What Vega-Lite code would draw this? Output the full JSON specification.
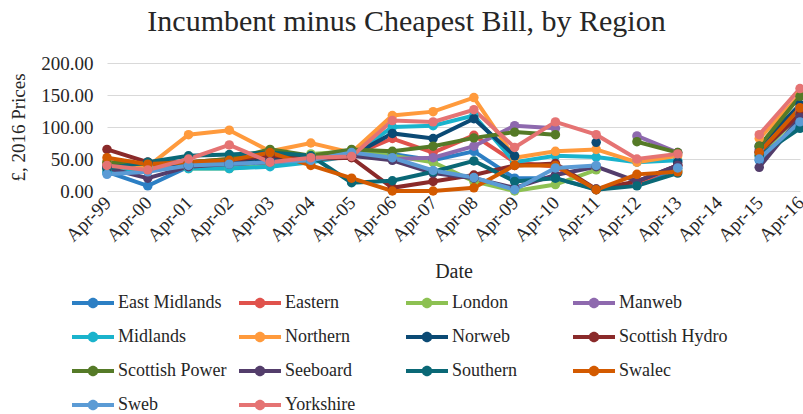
{
  "$schema": "https://vega.github.io/schema/vega-lite/v6.json",
  "width": 693,
  "height": 128,
  "autosize": {"type": "none"},
  "padding": {"left": 107, "top": 63, "right": 3, "bottom": 223},
  "background": "white",
  "title": {"text": "Incumbent minus Cheapest Bill, by Region", "fontSize": 30, "font": "Liberation Serif", "fontWeight": "normal", "color": "#262626", "anchor": "middle", "dx": -47, "offset": 17},
  "data": {"values": [
    {"date": "Apr-99", "East Midlands": 30, "Eastern": 40, "London": 35, "Manweb": 38, "Midlands": 28, "Northern": 45, "Norweb": 38, "Scottish Hydro": 65, "Scottish Power": 45, "Seeboard": 36, "Southern": 35, "Swalec": 52, "Sweb": 26, "Yorkshire": 40},
    {"date": "Apr-00", "East Midlands": 8, "Eastern": 42, "London": 38, "Manweb": 40, "Midlands": 35, "Northern": 38, "Norweb": 45, "Scottish Hydro": 45, "Scottish Power": 42, "Seeboard": 20, "Southern": 45, "Swalec": 42, "Sweb": 30, "Yorkshire": 33},
    {"date": "Apr-01", "East Midlands": 38, "Eastern": 45, "London": 35, "Manweb": 42, "Midlands": 35, "Northern": 88, "Norweb": 40, "Scottish Hydro": 45, "Scottish Power": 45, "Seeboard": 38, "Southern": 55, "Swalec": 45, "Sweb": 40, "Yorkshire": 50},
    {"date": "Apr-02", "East Midlands": 40, "Eastern": 50, "London": 35, "Manweb": 45, "Midlands": 35, "Northern": 95, "Norweb": 48, "Scottish Hydro": 48, "Scottish Power": 50, "Seeboard": 42, "Southern": 57, "Swalec": 48, "Sweb": 42, "Yorkshire": 72},
    {"date": "Apr-03", "East Midlands": 42, "Eastern": 48, "London": 40, "Manweb": 48, "Midlands": 38, "Northern": 62, "Norweb": 50, "Scottish Hydro": 55, "Scottish Power": 65, "Seeboard": 45, "Southern": 60, "Swalec": 60, "Sweb": 45, "Yorkshire": 45},
    {"date": "Apr-04", "East Midlands": 48, "Eastern": 50, "London": 58, "Manweb": 52, "Midlands": 45, "Northern": 75, "Norweb": 52, "Scottish Hydro": 50, "Scottish Power": 55, "Seeboard": 50, "Southern": 55, "Swalec": 40, "Sweb": 48, "Yorkshire": 52},
    {"date": "Apr-05", "East Midlands": 58, "Eastern": 55, "London": 62, "Manweb": 55, "Midlands": 55, "Northern": 60, "Norweb": 55, "Scottish Hydro": 52, "Scottish Power": 65, "Seeboard": 55, "Southern": 13, "Swalec": 20, "Sweb": 60, "Yorkshire": 54},
    {"date": "Apr-06", "East Midlands": 58, "Eastern": 82, "London": 55, "Manweb": 50, "Midlands": 100, "Northern": 118, "Norweb": 90, "Scottish Hydro": 5, "Scottish Power": 62, "Seeboard": 48, "Southern": 16, "Swalec": 0, "Sweb": 52, "Yorkshire": 110},
    {"date": "Apr-07", "East Midlands": 48, "Eastern": 60, "London": 45, "Manweb": 52, "Midlands": 102, "Northern": 124, "Norweb": 82, "Scottish Hydro": 15, "Scottish Power": 70, "Seeboard": 28, "Southern": 30, "Swalec": 0, "Sweb": 32, "Yorkshire": 108},
    {"date": "Apr-08", "East Midlands": 62, "Eastern": 87, "London": 15, "Manweb": 70, "Midlands": 118, "Northern": 146, "Norweb": 113, "Scottish Hydro": 25, "Scottish Power": 83, "Seeboard": 20, "Southern": 47, "Swalec": 5, "Sweb": 21, "Yorkshire": 127},
    {"date": "Apr-09", "East Midlands": 20, "Eastern": 45, "London": 0, "Manweb": 102, "Midlands": 45, "Northern": 52, "Norweb": 55, "Scottish Hydro": 40, "Scottish Power": 92, "Seeboard": 5, "Southern": 15, "Swalec": 40, "Sweb": 2, "Yorkshire": 68},
    {"date": "Apr-10", "East Midlands": 20, "Eastern": 38, "London": 10, "Manweb": 98, "Midlands": 55, "Northern": 62, "Norweb": null, "Scottish Hydro": 43, "Scottish Power": 88, "Seeboard": 25, "Southern": 20, "Swalec": 40, "Sweb": 36, "Yorkshire": 108},
    {"date": "Apr-11", "East Midlands": 3, "Eastern": 2, "London": 33, "Manweb": null, "Midlands": 53, "Northern": 65, "Norweb": 76, "Scottish Hydro": 3, "Scottish Power": null, "Seeboard": 38, "Southern": 2, "Swalec": 2, "Sweb": 40, "Yorkshire": 88},
    {"date": "Apr-12", "East Midlands": 10, "Eastern": 12, "London": null, "Manweb": 86, "Midlands": 45, "Northern": 45, "Norweb": null, "Scottish Hydro": 15, "Scottish Power": 77, "Seeboard": 15, "Southern": 8, "Swalec": 26, "Sweb": null, "Yorkshire": 50},
    {"date": "Apr-13", "East Midlands": 35, "Eastern": 40, "London": 32, "Manweb": 60, "Midlands": 48, "Northern": 55, "Norweb": 45, "Scottish Hydro": 40, "Scottish Power": 60, "Seeboard": 40, "Southern": 28, "Swalec": 30, "Sweb": 36, "Yorkshire": 58},
    {"date": "Apr-14", "East Midlands": null, "Eastern": null, "London": null, "Manweb": null, "Midlands": null, "Northern": null, "Norweb": null, "Scottish Hydro": null, "Scottish Power": null, "Seeboard": null, "Southern": null, "Swalec": null, "Sweb": null, "Yorkshire": null},
    {"date": "Apr-15", "East Midlands": 48, "Eastern": 62, "London": 55, "Manweb": 65, "Midlands": 60, "Northern": 82, "Norweb": 70, "Scottish Hydro": 60, "Scottish Power": 70, "Seeboard": 37, "Southern": 55, "Swalec": 60, "Sweb": 50, "Yorkshire": 88},
    {"date": "Apr-16", "East Midlands": 105, "Eastern": 125, "London": 120, "Manweb": 130, "Midlands": 120, "Northern": 150, "Norweb": 135, "Scottish Hydro": 120, "Scottish Power": 148, "Seeboard": 115, "Southern": 98, "Swalec": 130, "Sweb": 108, "Yorkshire": 160}
  ]},
  "transform": [
    {"fold": ["East Midlands", "Eastern", "London", "Manweb", "Midlands", "Northern", "Norweb", "Scottish Hydro", "Scottish Power", "Seeboard", "Southern", "Swalec", "Sweb", "Yorkshire"], "as": ["region", "value"]}
  ],
  "mark": {"type": "line", "strokeWidth": 4, "invalid": "break-paths-filter-domains", "point": {"size": 90, "filled": true, "opacity": 1}},
  "encoding": {
    "x": {"field": "date", "type": "ordinal", "title": "Date",
      "scale": {"type": "point", "padding": 0, "domain": ["Apr-99", "Apr-00", "Apr-01", "Apr-02", "Apr-03", "Apr-04", "Apr-05", "Apr-06", "Apr-07", "Apr-08", "Apr-09", "Apr-10", "Apr-11", "Apr-12", "Apr-13", "Apr-14", "Apr-15", "Apr-16"]},
      "axis": {"labelAngle": -45, "labelFont": "Liberation Serif", "labelFontSize": 19, "labelColor": "#262626", "labelPadding": 2, "labelOffset": -6, "labelBound": false, "ticks": false, "domain": false, "grid": false, "titleFont": "Liberation Serif", "titleFontSize": 20, "titleFontWeight": "normal", "titleColor": "#262626", "titlePadding": 17}},
    "y": {"field": "value", "type": "quantitative", "title": "£, 2016 Prices",
      "scale": {"domain": [0, 200], "nice": false, "zero": true},
      "axis": {"values": [0, 50, 100, 150, 200], "format": ".2f", "labelFont": "Liberation Serif", "labelFontSize": 19, "labelColor": "#262626", "labelPadding": 14, "ticks": false, "domain": false, "grid": true, "gridColor": "#d9d9d9", "gridWidth": 1, "titleFont": "Liberation Serif", "titleFontSize": 19, "titleFontWeight": "normal", "titleColor": "#262626", "titlePadding": 12}},
    "color": {"field": "region", "type": "nominal",
      "scale": {"domain": ["East Midlands", "Eastern", "London", "Manweb", "Midlands", "Northern", "Norweb", "Scottish Hydro", "Scottish Power", "Seeboard", "Southern", "Swalec", "Sweb", "Yorkshire"],
        "range": ["#2C7FC4", "#E0524C", "#8DC152", "#8E69AE", "#1AB3CC", "#FF9A3C", "#0B4A74", "#8A2A2A", "#557A27", "#533D6B", "#0A6876", "#D35A00", "#5B9BD5", "#E57373"]},
      "legend": {"title": null, "orient": "none", "legendX": -35, "legendY": 219, "columns": 4, "direction": "horizontal", "gridAlign": "all",
        "symbolType": "M-1,-0.1L1,-0.1L1,0.1L-1,0.1Z M-0.25,0A0.25,0.25,0,1,1,0.25,0A0.25,0.25,0,1,1,-0.25,0Z",
        "symbolSize": 1764, "symbolStrokeWidth": 0, "labelFont": "Liberation Serif", "labelFontSize": 18, "labelColor": "#262626", "labelOffset": 4, "columnPadding": 12, "rowPadding": 4,
        "encode": {"symbols": {"update": {"fill": {"scale": "color", "field": "value"}, "strokeWidth": {"value": 0}, "opacity": {"value": 1}}}}}
    }
  },
  "config": {"view": {"stroke": null}}
}
